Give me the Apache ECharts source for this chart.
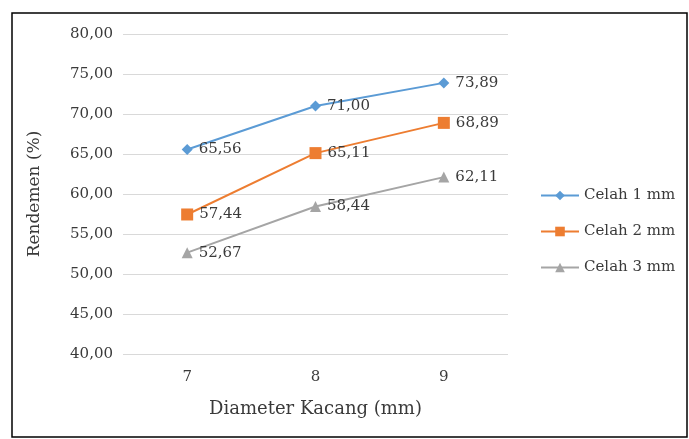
<!DOCTYPE html>
<html>
<head>
<meta charset="utf-8">
<script src="https://cdn.jsdelivr.net/npm/echarts@6/dist/echarts.min.js"></script>
<style>
  html, body { margin: 0; padding: 0; background: #ffffff; }
  #chart { width: 689px; height: 439px; }
</style>
</head>
<body>
<div id="chart"></div>
<script>
// Diameter categories (mm)
const categories = ['7', '8', '9'];

// Rendemen (%) per gap setting
const celah1 = [65.56, 71.00, 73.89];
const celah2 = [57.44, 65.11, 68.89];
const celah3 = [52.67, 58.44, 62.11];

const seriesNames = ['Celah 1 mm', 'Celah 2 mm', 'Celah 3 mm'];

const fontFamily = '"DejaVu Serif", "Liberation Serif", serif';
const textColor = '#3a3a3a';
const fmt = v => v.toFixed(2).replace('.', ',');

const chart = echarts.init(document.getElementById('chart'), null, { renderer: 'canvas' });

function lineSeries(name, data, color, symbol, size) {
  return {
    name: name,
    type: 'line',
    data: data,
    symbol: symbol,
    symbolSize: size,
    lineStyle: { color: color, width: 2 },
    itemStyle: { color: color },
    label: {
      show: true,
      position: 'right',
      distance: 6,
      formatter: p => fmt(p.value),
      color: textColor,
      fontFamily: fontFamily,
      fontSize: 15
    },
    emphasis: { disabled: true },
    animation: false
  };
}

chart.setOption({
  backgroundColor: '#ffffff',
  textStyle: { fontFamily: fontFamily },
  graphic: [{
    type: 'rect',
    shape: { x: 12, y: 13, width: 675, height: 424 },
    style: { fill: 'none', stroke: '#000000', lineWidth: 1.5 },
    silent: true
  }],
  grid: { left: 123, right: 181, top: 34, bottom: 85 },
  legend: {
    orient: 'vertical',
    left: 535,
    top: 183,
    itemGap: 21,
    itemWidth: 38,
    itemHeight: 12,
    data: seriesNames,
    textStyle: { color: textColor, fontFamily: fontFamily, fontSize: 15 }
  },
  xAxis: {
    type: 'category',
    data: categories,
    boundaryGap: true,
    axisLine: { show: false },
    axisTick: { show: false },
    axisLabel: { color: textColor, fontFamily: fontFamily, fontSize: 15, margin: 16 },
    name: 'Diameter Kacang (mm)',
    nameLocation: 'middle',
    nameGap: 46,
    nameTextStyle: { color: textColor, fontFamily: fontFamily, fontSize: 18 }
  },
  yAxis: {
    type: 'value',
    min: 40,
    max: 80,
    interval: 5,
    axisLine: { show: false },
    axisTick: { show: false },
    splitLine: { lineStyle: { color: '#d9d9d9', width: 1 } },
    axisLabel: { color: textColor, fontFamily: fontFamily, fontSize: 15, margin: 10, formatter: v => fmt(v) },
    name: 'Rendemen (%)',
    nameLocation: 'middle',
    nameRotate: 90,
    nameGap: 80,
    nameTextStyle: { color: textColor, fontFamily: fontFamily, fontSize: 17 }
  },
  series: [
    lineSeries(seriesNames[0], celah1, '#5b9bd5', 'diamond', 11),
    lineSeries(seriesNames[1], celah2, '#ed7d31', 'rect', 12),
    lineSeries(seriesNames[2], celah3, '#a5a5a5', 'triangle', 11)
  ]
});
</script>
</body>
</html>
